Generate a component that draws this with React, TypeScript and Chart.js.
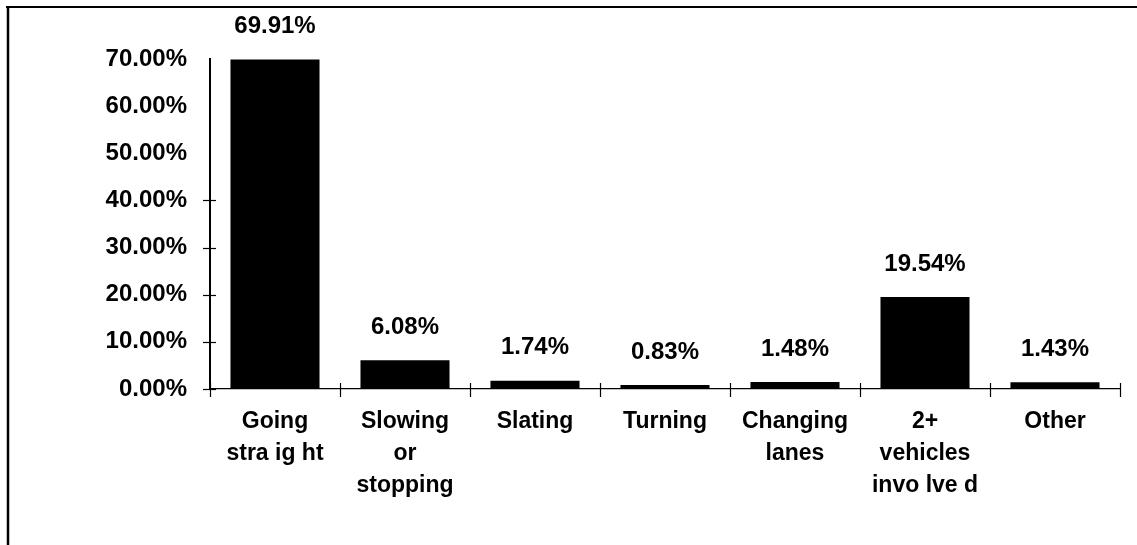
import React, { useEffect, useRef } from "react";
import { Chart, registerables } from "chart.js";

Chart.register(...registerables);

const categories: string[][] = [
  ["Going", "stra ig ht"],
  ["Slowing", "or", "stopping"],
  ["Slating"],
  ["Turning"],
  ["Changing", "lanes"],
  ["2+", "vehicles", "invo lve d"],
  ["Other"],
];
const shares: number[] = [69.91, 6.08, 1.74, 0.83, 1.48, 19.54, 1.43];
const yTickValues: number[] = [0, 10, 20, 30, 40, 50, 60, 70];
const yMarkedTicks: number[] = [0, 10, 20, 30, 40];

const FONT = "'Liberation Sans', Arial, sans-serif";

const framePlugin = {
  id: "frame",
  beforeDraw(chart: any) {
    const ctx = chart.ctx;
    ctx.save();
    ctx.strokeStyle = "#000";
    ctx.lineWidth = 2;
    ctx.beginPath();
    ctx.moveTo(6, 7);
    ctx.lineTo(chart.width, 7);
    ctx.stroke();
    ctx.lineWidth = 2.5;
    ctx.beginPath();
    ctx.moveTo(8, 6);
    ctx.lineTo(8, chart.height);
    ctx.stroke();
    ctx.restore();
  },
};

const tickMarksPlugin = {
  id: "tickMarks",
  afterDraw(chart: any) {
    const ctx = chart.ctx;
    const xs = chart.scales.x;
    const ys = chart.scales.y;
    ctx.save();
    ctx.strokeStyle = "#000";
    ctx.lineWidth = 1.2;
    // y ticks crossing axis
    const ax = chart.chartArea.left;
    yMarkedTicks.forEach((v) => {
      const py = Math.round(ys.getPixelForValue(v)) + 0.5;
      ctx.beginPath();
      ctx.moveTo(ax - 7, py);
      ctx.lineTo(ax + 6, py);
      ctx.stroke();
    });
    // x ticks at category boundaries
    const ay = chart.chartArea.bottom;
    const n = categories.length;
    const bounds: number[] = [];
    for (let i = 0; i <= n; i++) {
      if (i === 0) bounds.push(chart.chartArea.left);
      else if (i === n) bounds.push(chart.chartArea.right);
      else bounds.push((xs.getPixelForValue(i - 1) + xs.getPixelForValue(i)) / 2);
    }
    bounds.forEach((bx, i) => {
      const px = Math.round(bx) + 0.5;
      ctx.beginPath();
      ctx.moveTo(px, ay - 6);
      ctx.lineTo(px, ay + 8);
      ctx.stroke();
    });
    ctx.restore();
  },
};

const valueLabelPlugin = {
  id: "valueLabels",
  afterDatasetsDraw(chart: any) {
    const ctx = chart.ctx;
    const meta = chart.getDatasetMeta(0);
    ctx.save();
    ctx.fillStyle = "#000";
    ctx.font = `bold 24px ${FONT}`;
    ctx.textAlign = "center";
    ctx.textBaseline = "middle";
    meta.data.forEach((bar: any, i: number) => {
      ctx.fillText(shares[i].toFixed(2) + "%", bar.x, bar.y - 33);
    });
    ctx.restore();
  },
};

export default function App() {
  const canvasRef = useRef<HTMLCanvasElement | null>(null);

  useEffect(() => {
    document.body.style.margin = "0";
    const canvas = canvasRef.current;
    if (!canvas) return;
    const chart = new Chart(canvas, {
      type: "bar",
      data: {
        labels: categories,
        datasets: [
          {
            data: shares,
            backgroundColor: "#000",
            borderWidth: 0,
            barPercentage: 0.685,
            categoryPercentage: 1,
          },
        ],
      },
      options: {
        animation: false,
        responsive: true,
        maintainAspectRatio: false,
        layout: { padding: { top: 59, right: 17, left: 0, bottom: 0 } },
        plugins: {
          legend: { display: false },
          tooltip: { enabled: false },
          title: { display: false },
        },
        scales: {
          x: {
            grid: { display: false, drawTicks: false },
            border: { display: true, color: "#000", width: 1.2 },
            ticks: {
              color: "#000",
              font: { family: FONT, size: 23, weight: "bold", lineHeight: 1.39 },
              padding: 17,
              maxRotation: 0,
              autoSkip: false,
            },
            afterFit(scale: any) {
              scale.height = 156;
            },
          },
          y: {
            min: 0,
            max: 70,
            grid: { display: false, drawTicks: false },
            border: { display: true, color: "#000", width: 2 },
            afterBuildTicks(scale: any) {
              scale.ticks = yTickValues.map((v) => ({ value: v }));
            },
            ticks: {
              color: "#000",
              font: { family: FONT, size: 24, weight: "bold" },
              padding: 23,
              callback: (v: any) => Number(v).toFixed(2) + "%",
            },
            afterFit(scale: any) {
              scale.width = 210;
            },
          },
        },
      },
      plugins: [framePlugin, tickMarksPlugin, valueLabelPlugin],
    });
    return () => chart.destroy();
  }, []);

  return (
    <div style={{ position: "relative", width: "1137px", height: "545px" }}>
      <canvas ref={canvasRef} />
    </div>
  );
}
